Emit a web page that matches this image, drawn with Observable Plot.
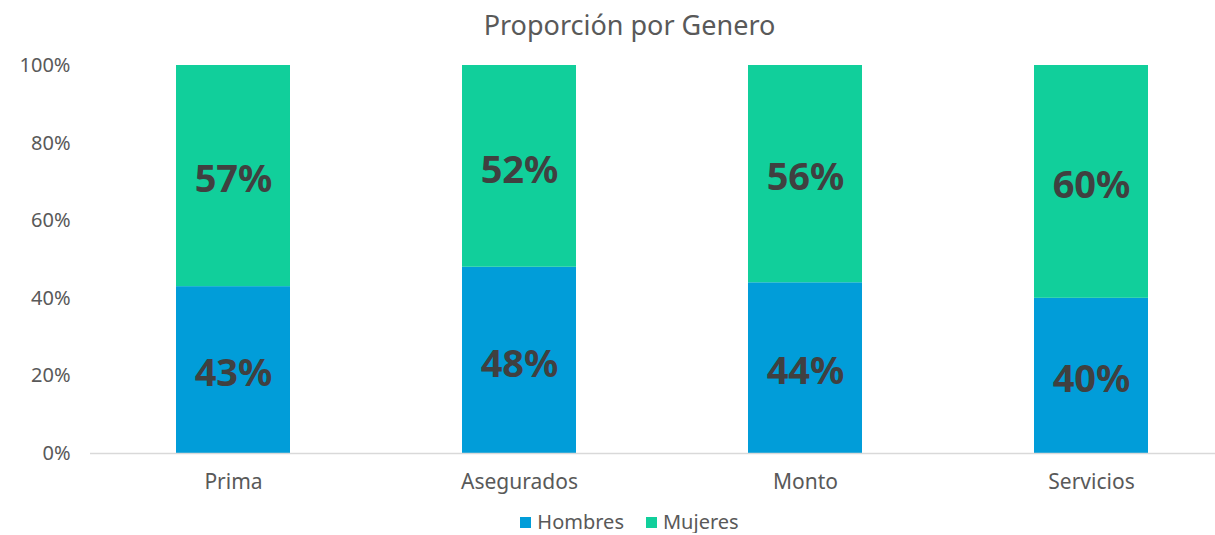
<!DOCTYPE html>
<html>
<head>
<meta charset="utf-8">
<script src="https://cdn.jsdelivr.net/npm/d3@7"></script>
<script src="https://cdn.jsdelivr.net/npm/@observablehq/plot@0.6"></script>
<style>
  body { margin: 0; background: #fff; font-family: "Noto Sans", sans-serif; overflow: hidden; }
  #title { height: 50px; line-height: 50px; text-align: center; font-size: 27px; color: #595959; padding-left: 44px; }
  #legend { display: flex; justify-content: center; align-items: center; font-size: 20px; line-height: 22px; height: 22px; color: #595959; margin-top: 11px; padding-left: 44px; gap: 22px; }
  .item { display: flex; align-items: center; gap: 6px; }
  .sw { width: 11px; height: 11px; display: inline-block; }
</style>
</head>
<body>
<div id="title">Proporción por Genero</div>
<div id="chart"></div>
<div id="legend"></div>
<script>
const categories = ["Prima", "Asegurados", "Monto", "Servicios"];
const series = ["Hombres", "Mujeres"];
const hombres = [43, 48, 44, 40];
const mujeres = [57, 52, 56, 60];
const colors = ["#019dd9", "#11cf9b"];
const yTicks = [0, 20, 40, 60, 80, 100];

const data = [];
categories.forEach((c, i) => {
  data.push({cat: c, gender: series[0], value: hombres[i]});
  data.push({cat: c, gender: series[1], value: mujeres[i]});
});

const chart = Plot.plot({
  width: 1215,
  height: 450,
  marginTop: 15,
  marginBottom: 47,
  marginLeft: 90,
  marginRight: 0,
  style: {fontFamily: "Noto Sans, sans-serif", fontSize: "18px", color: "#595959", background: "#fff"},
  x: {domain: categories, range: [90, 1234], paddingInner: 0.6, paddingOuter: 0.3, label: null},
  y: {domain: [0, 100], label: null},
  color: {domain: series, range: colors},
  marks: [
    Plot.axisY({ticks: yTicks, tickFormat: d => d + "%", tickSize: 0, tickPadding: 20, fontSize: 20}),
    Plot.axisX({tickSize: 0, tickPadding: 21, fontSize: 21}),
    Plot.barY(data, {x: "cat", y: "value", fill: "gender", z: "gender"}),
    Plot.ruleY([0], {stroke: "#d9d9d9", strokeWidth: 1.5}),
    Plot.text(data, Plot.stackY({x: "cat", y: "value", z: "gender", text: d => d.value + "%", fill: "#404040", fontSize: 38, fontWeight: "bold", dy: 4}))
  ]
});
document.getElementById("chart").appendChild(chart);

const legend = document.getElementById("legend");
series.forEach((s, i) => {
  const it = document.createElement("div");
  it.className = "item";
  it.innerHTML = `<span class="sw" style="background:${colors[i]}"></span><span>${s}</span>`;
  legend.appendChild(it);
});
</script>
</body>
</html>
